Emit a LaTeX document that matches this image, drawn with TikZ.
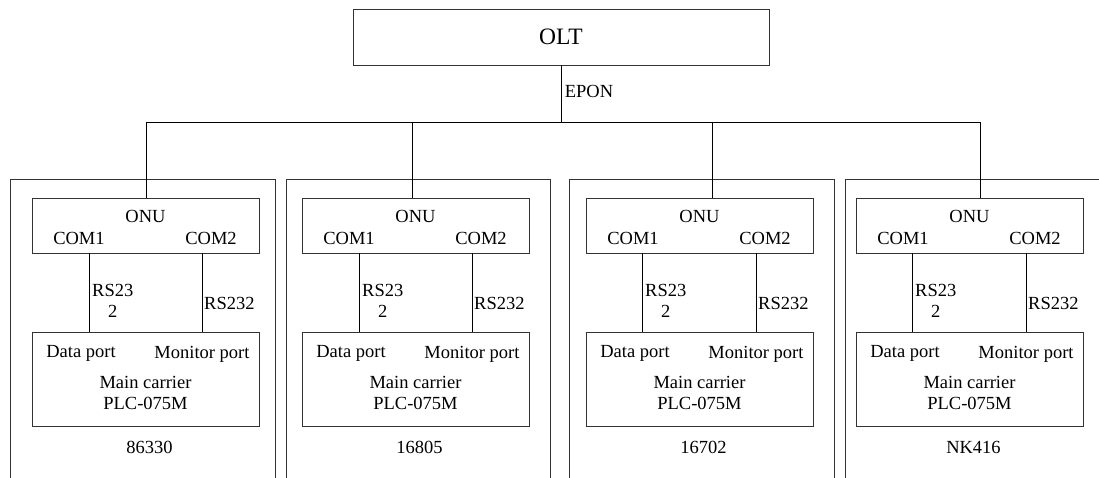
\documentclass[tikz,border=0pt]{standalone}
\usepackage{fontspec}
\setmainfont{Liberation Serif}
\begin{document}
\begin{tikzpicture}[x=1pt,y=-1pt,
  box/.style={draw=black!80, line width=0.9pt, inner sep=0pt},
  wire/.style={draw=black, line width=0.8pt},
  lbl/.style={font=\fontsize{18.5}{21}\selectfont, inner sep=0pt},
  big/.style={font=\fontsize{23.5}{26}\selectfont}]
\useasboundingbox (0,0) rectangle (1099,478);
\clip (0,0) rectangle (1099,478);
\node[box, big, minimum width=416pt, minimum height=56pt] (olt) at (561,37) {OLT};
\node[lbl] (epon) at (589,91) {EPON};
\foreach \i/\L/\R/\ox/\vx/\la/\lb/\nm in {
  1/10/275/32/146/89/202/86330,
  2/286/550/302/412/359/472/16805,
  3/569/834/586/712/642/756/16702,
  4/845/1103/856/980/912/1026/NK416}{
  \draw[box] (\L,480) -- (\L,179) -- (\R,179) -- (\R,480);
  \node[box, minimum width=227pt, minimum height=55pt] (onu\i) at (\ox+113.5,225.5) {};
  \node[box, minimum width=227pt, minimum height=94pt] (mc\i) at (\ox+113.5,379) {};
  \node[lbl] (onut\i) at (\ox+113.5,216) {ONU};
  \node[lbl] (coma\i) at (\ox+47,238) {COM1};
  \node[lbl] (comb\i) at (\ox+179,238) {COM2};
  \node[lbl] (dp\i) at (\ox+49,353) {Data port};
  \node[lbl] (mp\i) at (\ox+170,354) {Monitor port};
  \node[lbl] (mct\i) at (\ox+113.5,382) {Main carrier};
  \node[lbl] (plc\i) at (\ox+113.5,403) {PLC-075M};
  \node[lbl] (nm\i) at (\ox+117.5,447) {\nm};
  \coordinate (bus\i) at (\vx,122);
  \coordinate (pa\i) at (\la,253);
  \coordinate (pb\i) at (\lb,253);
  \draw[wire] (bus\i) -- (bus\i |- onu\i.north);
  \draw[wire] (pa\i) -- (pa\i |- mc\i.north);
  \draw[wire] (pb\i) -- (pb\i |- mc\i.north);
  \node[lbl, anchor=west, align=center] (rsa\i) at (\la+3,301) {RS23\\2};
  \node[lbl, anchor=west] (rsb\i) at (\lb+2,303) {RS232};
}
\draw[wire] (olt.south) -- (olt.south |- bus1);
\draw[wire] (bus1) -- (bus4);
\end{tikzpicture}
\end{document}
